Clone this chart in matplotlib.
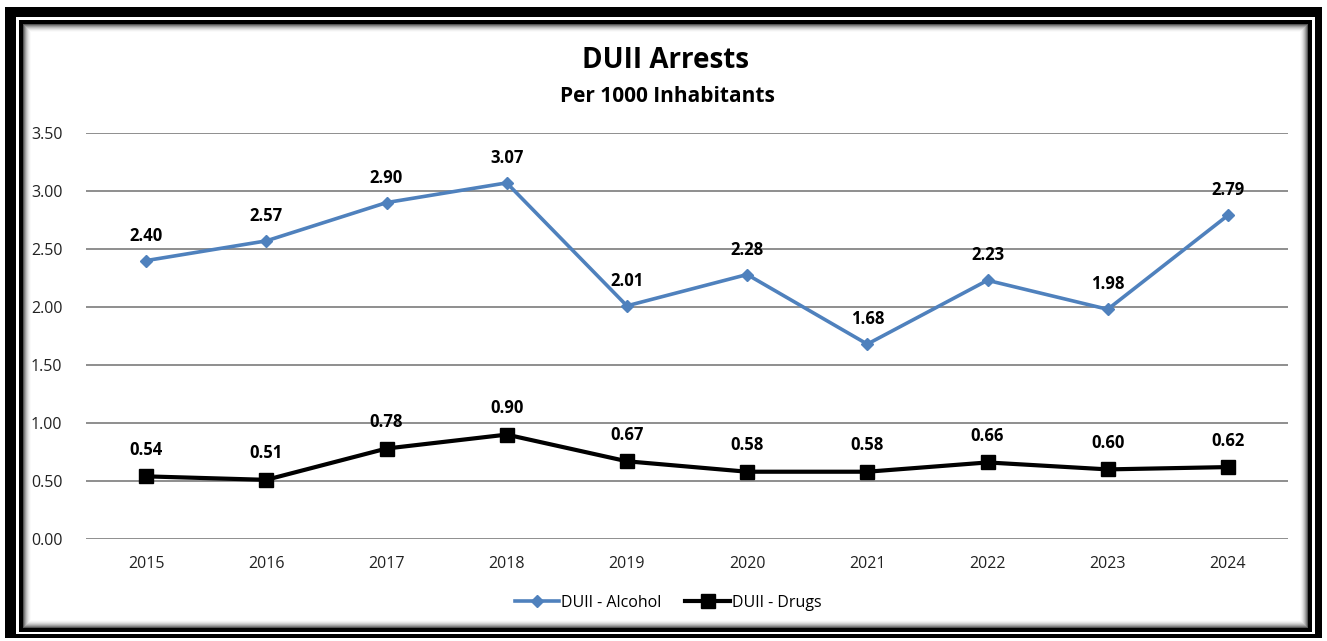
import numpy as np
import matplotlib
matplotlib.use("Agg")
import matplotlib.pyplot as plt
from matplotlib.patches import Rectangle

years = ['2015', '2016', '2017', '2018', '2019', '2020', '2021', '2022', '2023', '2024']
alcohol = [2.40, 2.57, 2.90, 3.07, 2.01, 2.28, 1.68, 2.23, 1.98, 2.79]
drugs = [0.54, 0.51, 0.78, 0.90, 0.67, 0.58, 0.58, 0.66, 0.60, 0.62]
yticks = [0.0, 0.5, 1.0, 1.5, 2.0, 2.5, 3.0, 3.5]

plt.rcParams['font.family'] = ['Open Sans', 'DejaVu Sans']

W, H = 1327, 641
fig = plt.figure(figsize=(W / 100, H / 100), dpi=100)
fig.patch.set_facecolor('white')


def box(x0, y0, x1, y1, color, z):
    # pixel coords (top-left origin) -> figure fraction
    fig.add_artist(Rectangle((x0 / W, 1 - y1 / H), (x1 - x0) / W, (y1 - y0) / H,
                             transform=fig.transFigure, facecolor=color,
                             edgecolor='none', zorder=z))


# frame: thick outer border, white gap, thin inner border, soft inner shadow
box(5, 7, 1322, 638, 'black', -10)
box(16, 17, 1315, 634, 'white', -9)
box(19, 20, 1312, 632, 'black', -8)
shades = ['#555555', '#808080', '#a0a0a0', '#bcbcbc', '#d2d2d2', '#e4e4e4', '#f1f1f1', '#fafafa']
for i, c in enumerate(shades):
    box(23 + i, 24 + i, 1308 - i, 628 - i, c, -7 + i * 0.1)
box(31, 32, 1300, 620, 'white', -6)

ax = fig.add_axes([86 / W, 102 / H, (1288 - 86) / W, (539 - 133) / H])
ax.set_facecolor('none')
x = np.arange(len(years))

ax.plot(x, alcohol, color='#4f81bd', lw=2.6, marker='D', ms=6.5,
        label='DUII - Alcohol', zorder=3)
ax.plot(x, drugs, color='black', lw=3.0, marker='s', ms=9.5,
        label='DUII - Drugs', zorder=3)

for xi, v in zip(x, alcohol):
    ax.annotate(f'{v:.2f}', (xi, v), xytext=(0, 18), textcoords='offset points',
                ha='center', va='center', fontsize=12, fontweight='bold')
for xi, v in zip(x, drugs):
    ax.annotate(f'{v:.2f}', (xi, v), xytext=(0, 19), textcoords='offset points',
                ha='center', va='center', fontsize=12, fontweight='bold')

ax.set_xlim(-0.5, len(years) - 0.5)
ax.set_ylim(0, 3.5)
ax.set_yticks(yticks)
ax.set_yticklabels([f'{t:.2f}' for t in yticks])
ax.set_xticks(x)
ax.set_xticklabels(years)
ax.tick_params(length=0, labelsize=11.5, colors='#222222', pad=12)
ax.tick_params(axis='y', pad=17)
ax.grid(axis='y', color='#868686', lw=1.3)
ax.set_axisbelow(True)
for s in ax.spines.values():
    s.set_visible(False)

fig.text(666 / W, 1 - 60 / H, 'DUII Arrests', ha='center', va='center',
         fontsize=20, fontweight='bold')
fig.text(667 / W, 1 - 97 / H, 'Per 1000 Inhabitants', ha='center', va='center',
         fontsize=15, fontweight='bold')

fig.legend(loc='center', bbox_to_anchor=(668 / W, 1 - 603 / H), ncol=2,
           frameon=False, fontsize=11.5, handlelength=2.8, handletextpad=0.1,
           columnspacing=1.5)

fig.savefig('out.png', dpi=100)
